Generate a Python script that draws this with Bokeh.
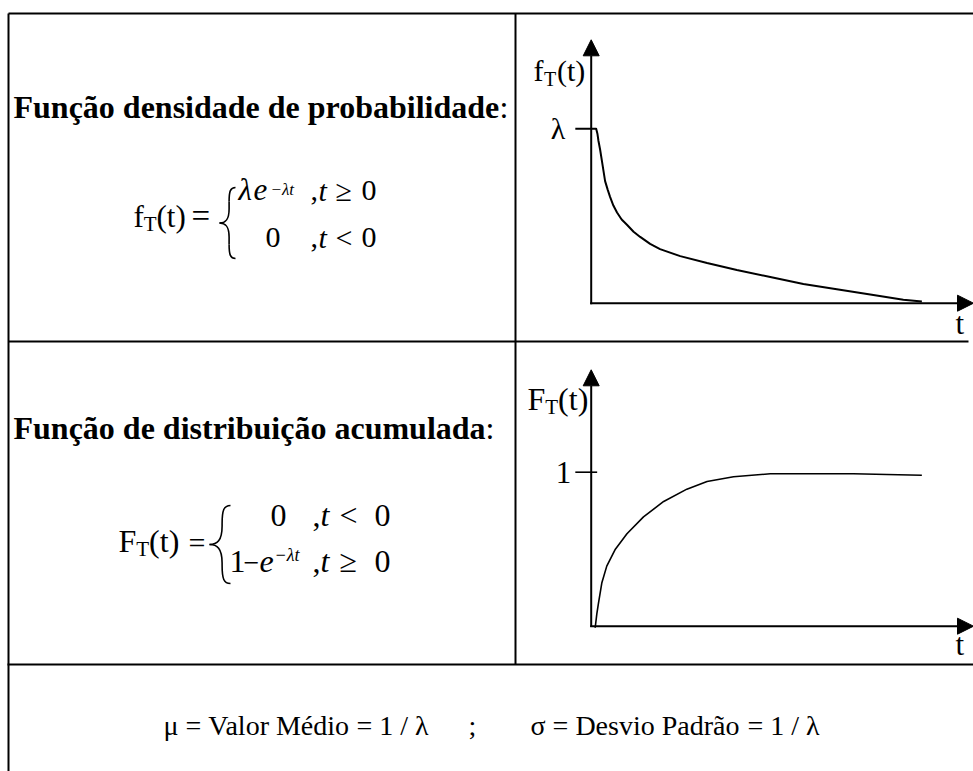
from bokeh.plotting import figure
from bokeh.models import Range1d, Arrow, NormalHead
from bokeh.embed import file_html
from bokeh.resources import INLINE
from bokeh.core.properties import value

W, H = 973, 771
FONT = "Liberation Serif"
INK = "black"

# ---- curve data (t in arbitrary time units) ----
# density f_T(t), expressed in units of λ
pdf_t = [0.0, 0.15, 0.19, 0.22, 0.27, 0.32, 0.42, 0.50, 0.57, 0.67, 0.78, 0.92,
         1.08, 1.28, 1.48, 1.78, 2.08, 2.69, 3.50, 4.40, 5.41, 6.41, 7.42,
         8.43, 9.43, 9.99]
pdf_f = [1.0, 1.0, 0.97, 0.93, 0.88, 0.82, 0.70, 0.65, 0.61, 0.56, 0.52, 0.48,
         0.45, 0.41, 0.38, 0.34, 0.31, 0.27, 0.23, 0.19, 0.15, 0.11, 0.08,
         0.05, 0.02, 0.01]

# cumulative distribution F_T(t)
cdf_t = [0.12, 0.17, 0.22, 0.32, 0.47, 0.73, 1.08, 1.58, 2.19, 2.89, 3.50, 4.30,
         5.41, 6.41, 7.92, 8.93, 9.99]
cdf_F = [-0.01, 0.08, 0.15, 0.28, 0.39, 0.50, 0.60, 0.71, 0.81, 0.89, 0.94, 0.97,
         0.99, 0.99, 0.99, 0.985, 0.98]

# tick marks on the vertical axes
pdf_tick = 1.0
pdf_tick_label = "λ"
cdf_tick = 1.0
cdf_tick_label = "1"

# ---- layout (pixels, measured from the top-left corner) ----
AXIS_X = 590.7          # vertical axis of both small charts
PX_PER_T = 33.1         # horizontal scale of the charts
PDF_Y0, PX_PER_F = 302.7, 174.4
CDF_Y0, PX_PER_CDF = 625.7, 154.0
T_ARROW_END = (W - AXIS_X) / PX_PER_T
PDF_ARROW_TOP = (PDF_Y0 - 39.3) / PX_PER_F
CDF_ARROW_TOP = (CDF_Y0 - 369.3) / PX_PER_CDF
TICK_LEFT = -0.48
BASELINE_FIX = 0.35     # alphabetic baseline correction, in ems


def x_span(px0, ppu):
    return Range1d(-px0 / ppu, (W - px0) / ppu)


def y_span(py0, ppu):
    return Range1d(-(H - py0) / ppu, py0 / ppu)


p = figure(width=W, height=H, x_range=Range1d(0, W), y_range=Range1d(H, 0),
           x_axis_location=None, y_axis_location=None, toolbar_location=None,
           output_backend="svg", min_border=0, outline_line_color=None,
           background_fill_color="white", border_fill_color="white")
p.grid.visible = False

p.extra_x_ranges = {"t": x_span(AXIS_X, PX_PER_T)}
p.extra_y_ranges = {"pdf": y_span(PDF_Y0, PX_PER_F),
                    "cdf": y_span(CDF_Y0, PX_PER_CDF)}


def txt(x, y, s, size, style="normal", align="left", baseline="alphabetic",
        xr="default", yr="default", x_off=0):
    if baseline == "alphabetic" and yr == "default":
        y = y - BASELINE_FIX * size
    p.text(x=[x], y=[y], text=[s], text_font=value(FONT),
           text_font_size=value(f"{size}px"), text_font_style=style,
           text_align=align, text_baseline=baseline, text_color=INK,
           x_offset=x_off, x_range_name=xr, y_range_name=yr)


def brace(x_tip, x_end, y_top, y_bot, lw=1.6):
    xm = x_tip + 0.6 * (x_end - x_tip)
    ym = (y_top + y_bot) / 2
    r = (x_end - xm) * 2.2
    kw = dict(line_color=INK, line_width=lw)
    p.bezier(x0=[x_end], y0=[y_top], x1=[xm], y1=[y_top + r],
             cx0=[xm + 0.2 * (x_end - xm)], cy0=[y_top], cx1=[xm], cy1=[y_top + 0.25 * r], **kw)
    p.segment(x0=[xm], y0=[y_top + r], x1=[xm], y1=[ym - r], **kw)
    p.bezier(x0=[xm], y0=[ym - r], x1=[x_tip], y1=[ym],
             cx0=[xm], cy0=[ym - 0.2 * r], cx1=[xm - 0.4 * (xm - x_tip)], cy1=[ym], **kw)
    p.bezier(x0=[x_tip], y0=[ym], x1=[xm], y1=[ym + r],
             cx0=[xm - 0.4 * (xm - x_tip)], cy0=[ym], cx1=[xm], cy1=[ym + 0.2 * r], **kw)
    p.segment(x0=[xm], y0=[ym + r], x1=[xm], y1=[y_bot - r], **kw)
    p.bezier(x0=[xm], y0=[y_bot - r], x1=[x_end], y1=[y_bot],
             cx0=[xm], cy0=[y_bot - 0.25 * r], cx1=[xm + 0.2 * (x_end - xm)], cy1=[y_bot], **kw)


# ---- table rules ----
h_rules = [(8, 973, 13), (8, 968, 341), (7, 973, 664)]
v_rules = [(8, 13, 771), (515, 13, 664)]
p.segment(x0=[a for a, b, y in h_rules], x1=[b for a, b, y in h_rules],
          y0=[y for a, b, y in h_rules], y1=[y for a, b, y in h_rules],
          line_color=INK, line_width=2)
p.segment(x0=[x for x, a, b in v_rules], x1=[x for x, a, b in v_rules],
          y0=[a for x, a, b in v_rules], y1=[b for x, a, b in v_rules],
          line_color=INK, line_width=2)

# ---- row 1: density ----
txt(13, 118, "Função densidade de probabilidade", 32, "bold")
txt(499, 118, ":", 32)

txt(133, 227, "f", 31)
txt(143.3, 231, "T", 21)
txt(156, 227, "(t)", 31)
txt(191, 227, "=", 33)
brace(219, 235, 187, 258)
txt(238, 200, "λ", 31, "italic")
txt(253, 200, "e", 31, "italic")
txt(270, 195, "−λt", 17, "italic")
txt(310, 200, ",", 30)
txt(318, 200, "t", 30, "italic")
txt(335, 200, "≥", 30)
txt(361, 200, "0", 30)
txt(265, 247, "0", 30)
txt(310, 247, ",", 30)
txt(318, 247, "t", 30, "italic")
txt(335, 247, "<", 30)
txt(361, 247, "0", 30)

# ---- row 2: cumulative distribution ----
txt(13, 439, "Função de distribuição acumulada", 32, "bold")
txt(485, 439, ":", 32)

txt(118, 552, "F", 32)
txt(135.8, 556, "T", 21)
txt(148.6, 552, "(t)", 32)
txt(188, 552, "=", 30)
brace(209, 230, 505, 583)
txt(270, 526, "0", 32)
txt(312, 526, ",", 32)
txt(320, 526, "t", 32, "italic")
txt(339, 526, "<", 32)
txt(374, 526, "0", 32)
txt(229, 572, "1", 32)
txt(243, 572, "−", 28)
txt(259, 572, "e", 32, "italic")
txt(274, 561, "−λt", 18, "italic")
txt(312, 572, ",", 32)
txt(320, 572, "t", 32, "italic")
txt(339, 572, "≥", 32)
txt(374, 572, "0", 32)

# ---- density chart ----
head = dict(size=16, fill_color=INK, line_color=INK, line_width=1)
p.add_layout(Arrow(end=NormalHead(**head), x_start=0, y_start=-0.006, x_end=0,
                   y_end=PDF_ARROW_TOP, line_width=2, line_color=INK,
                   x_range_name="t", y_range_name="pdf"))
p.add_layout(Arrow(end=NormalHead(**head), x_start=-0.03, y_start=0, x_end=T_ARROW_END,
                   y_end=0, line_width=2, line_color=INK,
                   x_range_name="t", y_range_name="pdf"))
p.segment(x0=[TICK_LEFT], x1=[0], y0=[pdf_tick], y1=[pdf_tick], line_color=INK,
          line_width=2, x_range_name="t", y_range_name="pdf")
p.line(pdf_t, pdf_f, line_color=INK, line_width=2, line_join="round",
       x_range_name="t", y_range_name="pdf")
txt(0, pdf_tick, pdf_tick_label, 30, baseline="middle", align="right",
    xr="t", yr="pdf", x_off=-26)
txt(533, 80, "f", 30)
txt(543.5, 85, "T", 20)
txt(556.5, 80, "(t)", 30)
txt(955, 334, "t", 31)

# ---- cumulative chart ----
p.add_layout(Arrow(end=NormalHead(**head), x_start=0, y_start=-0.006, x_end=0,
                   y_end=CDF_ARROW_TOP, line_width=2, line_color=INK,
                   x_range_name="t", y_range_name="cdf"))
p.add_layout(Arrow(end=NormalHead(**head), x_start=-0.03, y_start=0, x_end=T_ARROW_END,
                   y_end=0, line_width=2, line_color=INK,
                   x_range_name="t", y_range_name="cdf"))
p.segment(x0=[TICK_LEFT], x1=[0.18], y0=[cdf_tick], y1=[cdf_tick], line_color=INK,
          line_width=1.6, x_range_name="t", y_range_name="cdf")
p.line(cdf_t, cdf_F, line_color=INK, line_width=1.6, line_join="round",
       x_range_name="t", y_range_name="cdf")
txt(0, cdf_tick, cdf_tick_label, 31, baseline="middle", align="right",
    xr="t", yr="cdf", x_off=-20)
txt(527, 410, "F", 32)
txt(544.8, 414, "T", 21)
txt(557.6, 410, "(t)", 32)
txt(955, 655, "t", 31)

# ---- row 3: moments ----
txt(163, 735, "μ = Valor Médio", 28)
txt(356, 735, "= 1 / λ", 28)
txt(468, 735, ";", 28)
txt(530, 735, "σ = Desvio Padrão", 28)
txt(747, 735, "= 1 / λ", 28)

open("out.html", "w").write(file_html(p, INLINE))
